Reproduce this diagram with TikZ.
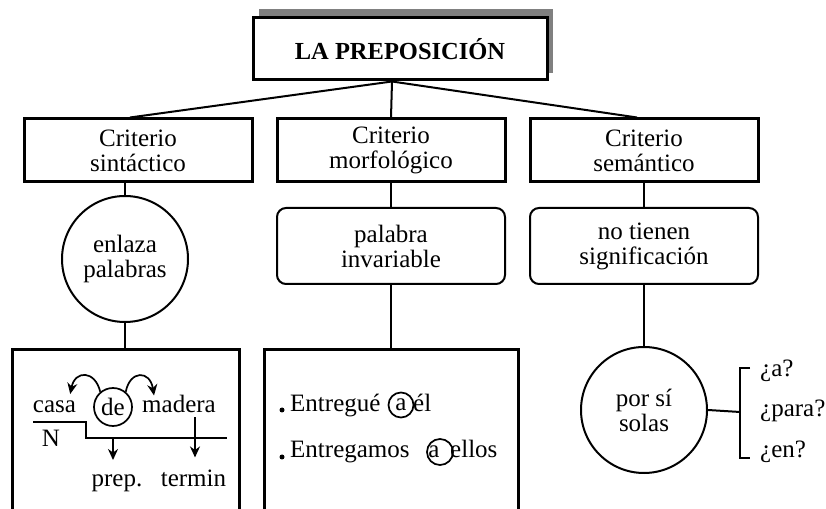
\documentclass[tikz,border=0pt]{standalone}
\usepackage{fontspec}
\setmainfont{Liberation Serif}
\usetikzlibrary{arrows.meta, positioning}
\usepackage{xcolor}
\definecolor{sombra}{RGB}{128,128,128}
\tikzset{cajatitulo/.style={rectangle, draw=black, fill=white, line width=3pt, minimum width=294pt, minimum height=62pt, font=\fontsize{24.5}{25}\selectfont\bfseries},cajacriterio/.style={rectangle, draw=black, line width=3pt, minimum width=228pt, minimum height=63pt, align=center, inner sep=0pt}}
\tikzset{cajaredonda/.style={rectangle, rounded corners=9pt, draw=black, line width=2pt, minimum width=228pt, minimum height=76pt, align=center, inner sep=0pt},circulo/.style={circle, draw=black, line width=2pt, minimum size=126pt, align=center, inner sep=0pt}}

\begin{document}
\begin{tikzpicture}[
        x=1pt, y=1pt,
        line join=miter,
        font=\fontsize{25}{25}\selectfont,
        cajaejemplo/.style={rectangle, draw=black, line width=3pt, minimum height=220pt, anchor=north},
        circulito/.style={circle, draw=black, line width=1.7pt, inner sep=0pt},
        palabra/.style={inner sep=0pt, anchor=base},
        flecha/.style={-{Stealth[length=11pt, width=10pt]}, line width=1.7pt},
        conector/.style={line width=2pt}
    ]
        \useasboundingbox (0,0) rectangle (826,508);
        \clip (0,0) rectangle (826,508);
        % Title
        \fill[sombra] (259,435) rectangle (553,499);
        \node[cajatitulo] (titulo) at (400,459) {LA PREPOSICIÓN};
        \coordinate (hub) at ([xshift=-8pt]titulo.south);
        % Criteria
        \node[cajacriterio] (sint) at (138,357.5) {Criterio\\sintáctico};
        \node[cajacriterio] (morf) at (391,357.5) {Criterio\\morfológico};
        \node[cajacriterio] (sem) at (644,357.5) {Criterio\\semántico};
        \draw[conector] (hub) -- ([xshift=-8pt]sint.north);
        \draw[conector] (hub) -- (morf.north);
        \draw[conector] (hub) -- ([xshift=-7pt]sem.north);
        % Second level
        \node[circulo] (enlaza) at (125,249) {enlaza\\palabras};
        \node[cajaredonda] (invar) at (391,262) {palabra\\invariable};
        \node[cajaredonda] (signif) at (644,262) {no tienen\\significación};
        \draw[conector] (enlaza.north) -- (enlaza.north |- sint.south);
        \draw[conector] (morf.south) -- (invar.north);
        \draw[conector] (sem.south) -- (signif.north);
        % Examples
        \node[cajaejemplo, minimum width=227pt] (ej1) at (125.5,160) {};
        \node[cajaejemplo, minimum width=254pt] (ej2) at (391,160) {};
        \node[circulo] (solas) at (644,98) {por sí\\solas};
        \draw[conector] (enlaza.south) -- (enlaza.south |- ej1.north);
        \draw[conector] (invar.south) -- (ej2.north);
        \draw[conector] (signif.south) -- (solas.north);
        % casa de madera
        \node[palabra] (casa) at (54.5,95) {casa};
        \node[circulito, minimum size=38pt] (de) at (113,101) {de};
        \node[palabra] (madera) at (179,95) {madera};
        \draw[flecha] (de.130) .. controls (95,138) and (75,138) .. ([shift={(-6,7)}]casa.north east);
        \draw[flecha] (de.50) .. controls (130,138) and (150,138) .. ([xshift=12pt]madera.north west);
        \draw[conector] (33,86) -- (86,86) -- (86,70) -- (227,70);
        \node[palabra] (nucleo) at (51,61) {N};
        \draw[flecha] (de.south |- 0,70) -- ++(0,-22);
        \draw[flecha] ([shift={(16,-4)}]madera.south) -- ++(0,-40);
        \node[palabra] (prep) at (117,21) {prep.};
        \node[palabra] (termin) at (193.5,21) {termin};
        % Entregue a el
        \fill (282,98) circle (2.5);
        \fill (282,51) circle (2.5);
        \node[palabra, anchor=base west] (entregue) at (290,96) {Entregué};
        \node[circulito, minimum size=25pt] (a1) at (401,103) {a};
        \node[palabra, anchor=base west] (el) at (413,96) {él};
        \node[palabra, anchor=base west] (entregamos) at (290,50) {Entregamos};
        \node[circulito, minimum size=26pt] (a2) at (440,56) {};
        \node[palabra] (letra) at (434,50) {a};
        \node[palabra, anchor=base west] (ellos) at (450,50) {ellos};
        % Questions
        \coordinate (llave) at (740,96);
        \draw[conector] (solas.east) -- (llave);
        \draw[conector] (750,140) -- (740,140) -- (740,50) -- (750,50);
        \node[palabra, anchor=base west] (qa) at (760,131) {¿a?};
        \node[palabra, anchor=base west] (qpara) at (760,91) {¿para?};
        \node[palabra, anchor=base west] (qen) at (760,50) {¿en?};
    \end{tikzpicture}
\end{document}
